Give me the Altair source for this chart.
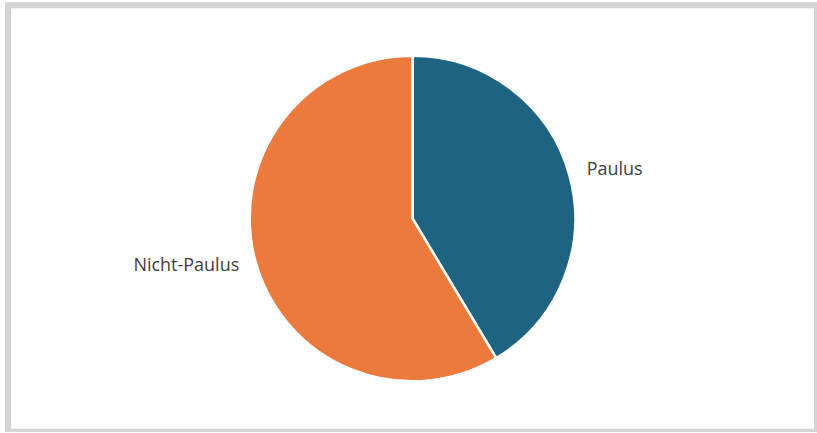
import altair as alt
import pandas as pd

categories = ["Paulus", "Nicht-Paulus"]
values = [41.4, 58.6]
colors = ["#1E6482", "#EC7A3D"]

df = pd.DataFrame({"cat": categories, "value": values, "ord": [0, 1]})

base = alt.Chart(df).encode(
    theta=alt.Theta("value:Q", stack=True),
    order=alt.Order("ord:Q"),
)

frame = alt.Chart(pd.DataFrame({"k": [0]})).mark_rect(
    fill=None, stroke="#D4D4D4", strokeWidth=6
).encode(x=alt.value(0), x2=alt.value(810), y=alt.value(0), y2=alt.value(427))

pie = base.mark_arc(radius=163, stroke="white", strokeWidth=2.5).encode(
    color=alt.Color("cat:N", scale=alt.Scale(domain=categories, range=colors), legend=None),
)

lab_right = base.transform_calculate(
    lbl="datum.cat == 'Paulus' ? datum.cat : ''"
).mark_text(radius=181, align="left", baseline="middle", fontSize=18,
            font="Open Sans", color="#404040").encode(text="lbl:N")

lab_left = base.transform_calculate(
    lbl="datum.cat == 'Nicht-Paulus' ? datum.cat : ''"
).mark_text(radius=180, align="right", baseline="middle", fontSize=18,
            font="Open Sans", color="#404040").encode(text="lbl:N")

chart = alt.layer(frame, pie, lab_right, lab_left).properties(
    width=810, height=427,
    padding={"left": 8, "top": 5, "right": 0, "bottom": 0},
    autosize=alt.AutoSizeParams(type="none"),
).configure_view(strokeWidth=0)

chart.save("out.html", embed_options={"renderer": "svg", "actions": False})
